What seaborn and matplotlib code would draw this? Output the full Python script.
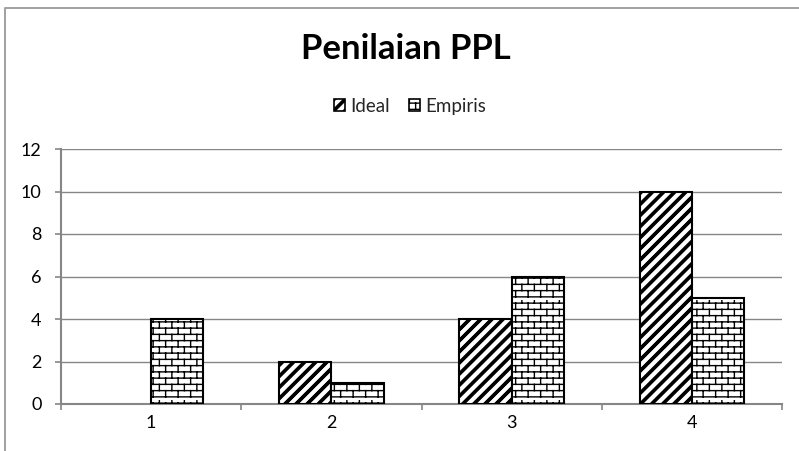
import numpy as np
import pandas as pd
import matplotlib
matplotlib.use("Agg")
import matplotlib.pyplot as plt
import matplotlib.hatch as mhatch
from matplotlib.path import Path
from matplotlib.lines import Line2D
from matplotlib.patches import Patch
import seaborn as sns

# ---- data ----
categories = ["1", "2", "3", "4"]
ideal = [0, 2, 4, 10]
empiris = [4, 1, 6, 5]
series_names = ["Ideal", "Empiris"]
title = "Penilaian PPL"


# ---- custom hatches: thick diagonal stripes ('/') and bricks ('+') ----
class ThickDiagonal(mhatch.HatchPatternBase):
    n = 9
    offsets = [-0.016, -0.0055, 0.0055, 0.016]

    def __init__(self, hatch, density):
        self.on = "/" in hatch
        cs = np.arange(-self.n, self.n + 1) / self.n
        self.cs = [c + o for c in cs for o in self.offsets]
        self.num_vertices = 2 * len(self.cs) if self.on else 0

    def set_vertices_and_codes(self, vertices, codes):
        for k, c in enumerate(self.cs):
            vertices[2 * k] = (c, 0.0)
            vertices[2 * k + 1] = (c + 1.0, 1.0)
            codes[2 * k] = Path.MOVETO
            codes[2 * k + 1] = Path.LINETO


class Brick(mhatch.HatchPatternBase):
    rows = 16
    cols = 8

    def __init__(self, hatch, density):
        self.on = "+" in hatch
        self.num_vertices = (2 * self.rows + 2 * self.rows * self.cols) if self.on else 0

    def set_vertices_and_codes(self, vertices, codes):
        k = 0
        for i in range(self.rows):
            y = (i + 0.5) / self.rows
            vertices[k] = (-0.05, y); codes[k] = Path.MOVETO; k += 1
            vertices[k] = (1.05, y); codes[k] = Path.LINETO; k += 1
        for i in range(self.rows):
            y0 = (i + 0.5) / self.rows
            y1 = (i + 1.5) / self.rows
            for j in range(self.cols):
                x = (j + 0.25 + 0.5 * (i % 2)) / self.cols
                vertices[k] = (x, y0); codes[k] = Path.MOVETO; k += 1
                vertices[k] = (x, y1); codes[k] = Path.LINETO; k += 1


mhatch._hatch_types = [ThickDiagonal, Brick]

sns.set_theme(style="white")
plt.rcParams["font.family"] = ["Lato", "DejaVu Sans"]
plt.rcParams["hatch.linewidth"] = 1.0
plt.rcParams["hatch.color"] = "black"

df = pd.DataFrame({
    "cat": categories * 2,
    "val": ideal + empiris,
    "series": [series_names[0]] * 4 + [series_names[1]] * 4,
})

fig = plt.figure(figsize=(7.99, 4.51), dpi=100)
ax = fig.add_axes([61 / 799, 1 - 404 / 451, (782 - 61) / 799, (404 - 149) / 451])

sns.barplot(data=df, x="cat", y="val", hue="series", order=categories,
            hue_order=series_names, palette=["white", "white"], width=0.58,
            gap=0, edgecolor="black", linewidth=1.5, legend=False, ax=ax,
            zorder=3)

hatches = {series_names[0]: "/", series_names[1]: "+"}
for cont, name in zip(ax.containers, series_names):
    for bar in cont:
        bar.set_hatch(hatches[name])
        bar.set_edgecolor("black")
        if bar.get_height() == 0:
            bar.set_linewidth(0)
            bar.set_hatch(None)

grey = "#868686"
ax.set_xlim(-0.5, 3.5)
ax.set_ylim(0, 12)
ax.set_yticks(np.arange(0, 13, 2))
ax.set_yticklabels([str(v) for v in range(0, 13, 2)])
ax.yaxis.grid(True, color=grey, linewidth=1.0, zorder=0)
ax.set_axisbelow(True)
ax.set_xlabel("")
ax.set_ylabel("")
for s in ["top", "right"]:
    ax.spines[s].set_visible(False)
for s in ["left", "bottom"]:
    ax.spines[s].set_color(grey)
    ax.spines[s].set_linewidth(1.5)

ax.set_xticks(np.arange(-0.5, 3.6, 1.0), minor=True)
ax.tick_params(axis="x", which="major", length=0, pad=8, labelsize=13, labelcolor="black")
ax.tick_params(axis="x", which="minor", length=4, width=1.2, color=grey, direction="out", bottom=True)
ax.tick_params(axis="y", which="major", length=4, width=1.2, color=grey, direction="out",
               left=True, pad=10, labelsize=13, labelcolor="black")

# title
fig.text(406 / 799, 1 - 49 / 451, title, ha="center", va="center",
         fontsize=25, fontweight="bold", color="black")

# legend
handles = [Patch(facecolor="white", edgecolor="black", hatch=hatches[n], linewidth=1.2)
           for n in series_names]
fig.legend(handles, series_names, loc="center", bbox_to_anchor=(410 / 799, 1 - 106 / 451),
           ncol=2, frameon=False, fontsize=13.5, handlelength=0.6, handleheight=0.6,
           handletextpad=0.3, columnspacing=1.0, borderaxespad=0)

# outer chart border (cropped on right and bottom)
fig.add_artist(Line2D([5 / 799, 5 / 799, 1.0], [0.0, 1 - 8 / 451, 1 - 8 / 451],
                      transform=fig.transFigure, color="#a0a0a0", linewidth=1.4))

fig.savefig("out.png", dpi=100)
